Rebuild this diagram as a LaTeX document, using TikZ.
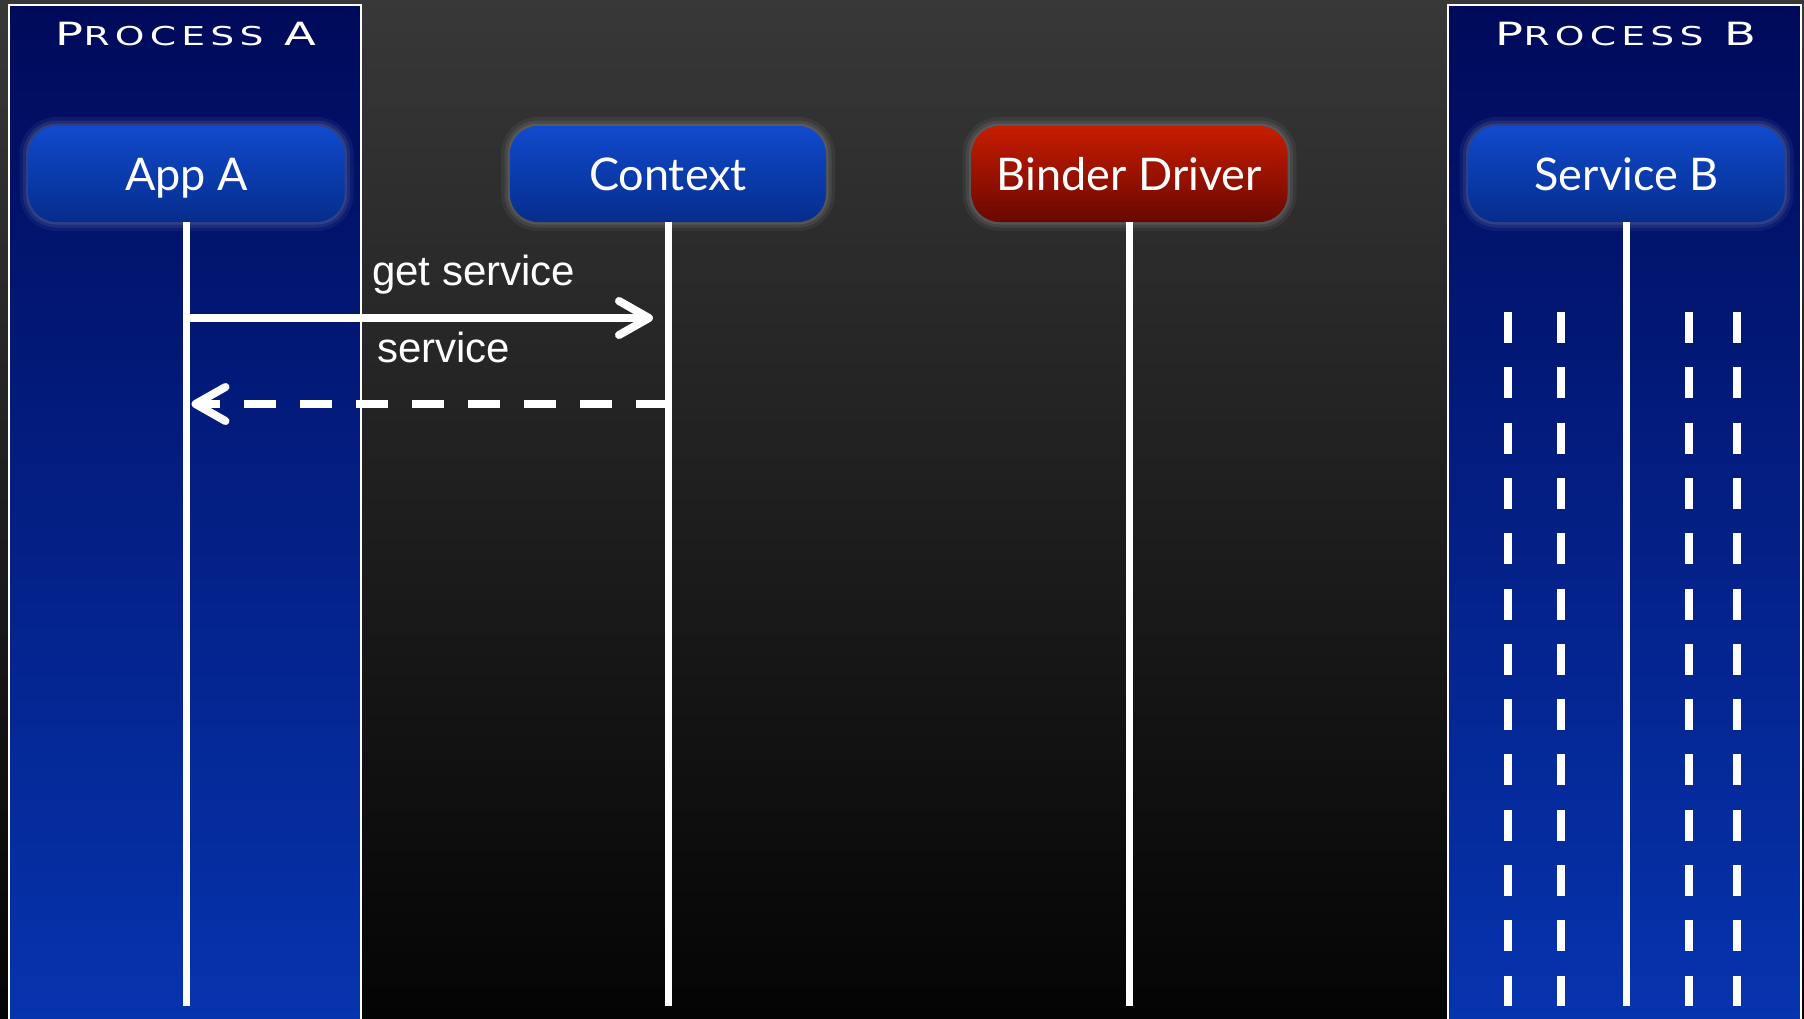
\documentclass[tikz,border=0pt]{standalone}
\usepackage{fontspec}
\setmainfont{Lato}
\newfontfamily\msgfont{Liberation Sans}
\newfontfamily\procfont[FakeStretch=1.45,LetterSpace=20]{DejaVu Sans}
\usetikzlibrary{arrows.meta}

\definecolor{bgtop}{RGB}{56,56,56}
\definecolor{bgbot}{RGB}{4,4,4}
\definecolor{proctop}{RGB}{0,10,90}
\definecolor{procbot}{RGB}{6,52,175}
\definecolor{boxtop}{RGB}{16,74,205}
\definecolor{boxbot}{RGB}{6,45,140}
\definecolor{redtop}{RGB}{200,28,0}
\definecolor{redbot}{RGB}{105,8,0}

\begin{document}
\begin{tikzpicture}[%
      x=1pt, y=-1pt,
      panel/.style={top color=proctop, bottom color=procbot, draw=white, line width=1.8pt},
      proclabel/.style={text=white, anchor=base, inner sep=0pt, font=\procfont\fontsize{32}{36}\selectfont},
      actor/.style={rounded corners=28pt, minimum width=316pt, minimum height=96pt,
        text=white, text height=33pt, text depth=0pt, inner sep=0pt,
        font=\fontsize{45}{52}\selectfont,
        preaction={draw=white, opacity=0.05, line width=18pt},
        preaction={draw=white, opacity=0.07, line width=11pt},
        preaction={draw=white, opacity=0.09, line width=5pt},
        top color=boxtop, bottom color=boxbot},
      driver/.style={actor, top color=redtop, bottom color=redbot},
      lifeline/.style={draw=white, line width=7pt},
      msg/.style={draw=white, line width=8pt, -{Straight Barb[length=30pt, width=34pt, round]}},
      msglabel/.style={text=white, anchor=base west, inner sep=0pt, font=\msgfont\fontsize{42}{48}\selectfont},
      threadline/.style={draw=white, line width=8pt, dash pattern=on 31pt off 24.3pt},
      ]
      \useasboundingbox (0,0) rectangle (1804,1018);
      \clip (0,0) rectangle (1804,1018);
      \shade [top color=bgtop, bottom color=bgbot] (0,0) rectangle (1804,1018);
      \shade [panel] (9,5) rectangle (361,1030);
      \shade [panel] (1448,5) rectangle (1801,1030);

      \node [proclabel] (procA) at (186,45) {P{\fontsize{26}{30}\selectfont ROCESS} A};
      \node [proclabel] (procB) at (1626,45) {P{\fontsize{26}{30}\selectfont ROCESS} B};

      \node [actor] (appA) at (186.5,174) {App A};
      \node [actor] (context) at (668,174) {Context};
      \node [driver] (binder) at (1129.5,174) {Binder Driver};
      \node [actor] (serviceB) at (1626.5,174) {Service B};

      \coordinate (bottom) at (0,1006);
      \coordinate (m1) at (0,318);
      \coordinate (m2) at (0,404);

      \draw [lifeline] (appA.south) -- (appA.south |- bottom);
      \draw [lifeline] (context.south) -- (context.south |- bottom);
      \draw [lifeline] (binder.south) -- (binder.south |- bottom);
      \draw [lifeline] (serviceB.south) -- (serviceB.south |- bottom);

      \foreach \x in {1508,1561,1689,1737}
        \draw [threadline] (\x,312) -- (\x,1006);

      \draw [msg, shorten >=15pt] (appA.south |- m1) -- (context.south |- m1);
      \draw [msg, dash pattern=on 32pt off 24pt, shorten >=5pt] (context.south |- m2) -- (appA.south |- m2);

      \node [msglabel] (getlbl) at (372,285) {get service};
      \node [msglabel] (retlbl) at (377,362) {service};
\end{tikzpicture}
\end{document}
